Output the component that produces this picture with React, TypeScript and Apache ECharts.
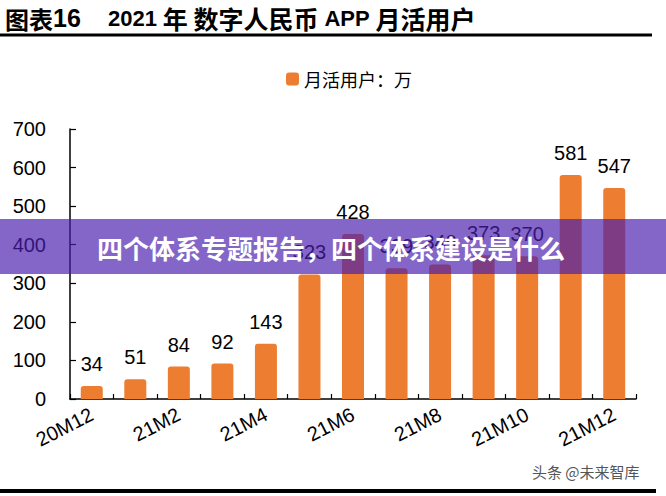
import React, { useEffect, useRef } from "react";
import * as echarts from "echarts";

const categories = ["20M12", "21M1", "21M2", "21M3", "21M4", "21M5", "21M6", "21M7", "21M8", "21M9", "21M10", "21M11", "21M12"];
const monthlyActiveUsers = [34, 51, 84, 92, 143, 323, 428, 339, 349, 373, 370, 581, 547];
const yMin = 0;
const yMax = 700;
const yInterval = 100;
const seriesName = "月活用户：万";
const titleLeadCjk = "图表";
const titleLeadNum = "16";
const titleParts = [
  ["n", "2021"],
  ["c", "年"],
  ["c", "数字人民币"],
  ["n", "APP"],
  ["c", "月活用户"],
];
const bannerText = "四个体系专题报告，四个体系建设是什么";
const watermarkText = "头条 @未来智库";

const LATIN = "'Liberation Sans', Arial, 'Noto Sans CJK SC', sans-serif";
const CJK = "'Noto Sans CJK SC', 'Liberation Sans', sans-serif";
const ORANGE = "#ED7D31";

export default function App() {
  const ref = useRef<HTMLDivElement>(null);
  useEffect(() => {
    if (!ref.current) return;
    const chart = echarts.init(ref.current, null, { renderer: "svg" });
    const titleRich = titleParts.map(([k, t]) => `{${k}|${t}}`).join("{s| }");
    chart.setOption({
      animation: false,
      backgroundColor: "#ffffff",
      legend: {
        data: [seriesName],
        left: 281,
        top: 65,
        icon: "roundRect",
        itemWidth: 13,
        itemHeight: 13,
        itemGap: 4,
        textStyle: { fontSize: 18, color: "#000", fontFamily: CJK },
      },
      grid: { left: 70, right: 30, top: 129, bottom: 97, containLabel: false },
      xAxis: {
        type: "category",
        data: categories,
        boundaryGap: true,
        axisLine: { show: true, lineStyle: { color: "#000", width: 1.5 } },
        axisTick: { show: true, inside: true, length: 5, interval: 0, lineStyle: { color: "#000", width: 1.2 } },
        axisLabel: {
          interval: 1,
          rotate: 27,
          margin: 14,
          fontSize: 20,
          color: "#000",
          fontFamily: LATIN,
        },
        splitLine: { show: false },
      },
      yAxis: {
        type: "value",
        min: yMin,
        max: yMax,
        interval: yInterval,
        axisLine: { show: true, lineStyle: { color: "#000", width: 1.5 } },
        axisTick: { show: true, inside: true, length: 6, lineStyle: { color: "#000", width: 1.2 } },
        axisLabel: { fontSize: 20, color: "#000", fontFamily: LATIN, margin: 24 },
        splitLine: { show: false },
      },
      series: [
        {
          name: seriesName,
          type: "bar",
          data: monthlyActiveUsers,
          barWidth: 22,
          itemStyle: { color: ORANGE, borderRadius: [3, 3, 0, 0] },
          label: {
            show: true,
            position: "top",
            distance: 12,
            fontSize: 20,
            color: "#000",
            fontFamily: LATIN,
          },
        },
      ],
      graphic: [
        {
          type: "text",
          x: 5,
          y: 18,
          z: 50,
          style: {
            text: `{c|${titleLeadCjk}}{n|${titleLeadNum}}`,
            textVerticalAlign: "middle",
            rich: {
              c: { fontSize: 24, fontWeight: "bold", fontFamily: CJK, fill: "#000" },
              n: { fontSize: 25, fontWeight: "bold", fontFamily: LATIN, fill: "#000" },
            },
          },
        },
        {
          type: "text",
          x: 108,
          y: 18,
          z: 50,
          style: {
            text: titleRich,
            textVerticalAlign: "middle",
            rich: {
              c: { fontSize: 25, fontWeight: "bold", fontFamily: CJK, fill: "#000" },
              n: { fontSize: 22, fontWeight: "bold", fontFamily: LATIN, fill: "#000" },
              s: { fontSize: 21, fontFamily: LATIN, fill: "#000" },
            },
          },
        },
        {
          type: "line",
          z: 50,
          shape: { x1: 0, y1: 35, x2: 652, y2: 35 },
          style: { stroke: "#000", lineWidth: 3 },
        },
        {
          type: "text",
          x: 532,
          y: 471,
          z: 50,
          style: {
            text: watermarkText,
            textVerticalAlign: "middle",
            fontSize: 15,
            fontFamily: CJK,
            fill: "#555",
          },
        },
        {
          type: "line",
          z: 50,
          shape: { x1: 0, y1: 491, x2: 656, y2: 491 },
          style: { stroke: "#000", lineWidth: 4 },
        },
        {
          type: "rect",
          z: 100,
          shape: { x: 0, y: 219, width: 666, height: 55 },
          style: { fill: "rgba(74, 30, 174, 0.68)" },
        },
        {
          type: "text",
          x: 97,
          y: 247,
          z: 101,
          style: {
            text: bannerText,
            textVerticalAlign: "middle",
            fontSize: 26,
            fontWeight: "bold",
            fontFamily: CJK,
            fill: "#ffffff",
          },
        },
      ],
    });
    return () => chart.dispose();
  }, []);
  return (
    <div
      ref={ref}
      style={{ position: "fixed", left: 0, top: 0, width: 666, height: 496, background: "#fff" }}
    />
  );
}
